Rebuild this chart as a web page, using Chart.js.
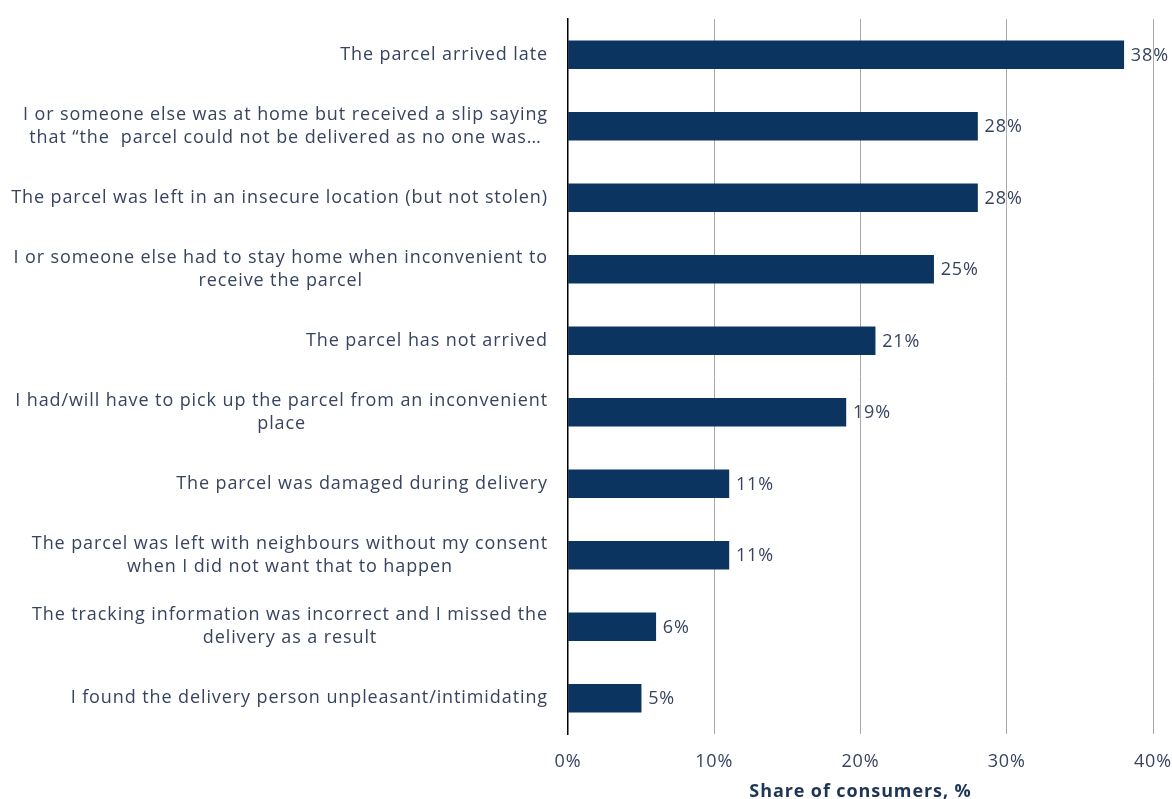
<!DOCTYPE html>
<html><head><meta charset="utf-8">
<script src="https://cdn.jsdelivr.net/npm/chart.js@4/dist/chart.umd.min.js"></script>
<style>html,body{margin:0;padding:0;background:#fff}#wrap{width:1172px;height:799px}</style>
</head><body><div id="wrap"><canvas id="c" width="1172" height="799"></canvas></div>
<script>
const categories = [
  ["The parcel arrived late"],
  ["I or someone else was at home but received a slip saying", "that \u201cthe  parcel could not be delivered as no one was\u2026"],
  ["The parcel was left in an insecure location (but not stolen)"],
  ["I or someone else had to stay home when inconvenient to", "receive the parcel"],
  ["The parcel has not arrived"],
  ["I had/will have to pick up the parcel from an inconvenient", "place"],
  ["The parcel was damaged during delivery"],
  ["The parcel was left with neighbours without my consent", "when I did not want that to happen"],
  ["The tracking information was incorrect and I missed the", "delivery as a result"],
  ["I found the delivery person unpleasant/intimidating"]
];
const shares = [38, 28, 28, 25, 21, 19, 11, 11, 6, 5];
const xTicks = [0, 10, 20, 30, 40];
const axisTitle = "Share of consumers, %";

const TEXT = '#374460';
const FONT = '"Open Sans", sans-serif';
const FSIZE = 18;
const LSP = '0.9px';

const spacingPlugin = {
  id: 'spacing',
  beforeDraw(chart) { chart.ctx.letterSpacing = LSP; }
};
const yLabelPlugin = {
  id: 'yLabels',
  afterDraw(chart) {
    const ctx = chart.ctx, y = chart.scales.y;
    ctx.save();
    ctx.font = FSIZE + 'px ' + FONT;
    ctx.letterSpacing = LSP;
    ctx.fillStyle = TEXT;
    ctx.textAlign = 'center';
    ctx.textBaseline = 'middle';
    const right = chart.chartArea.left - 20;
    const lh = 23;
    categories.forEach((lines, i) => {
      const cy = y.getPixelForTick(i);
      let w = 0;
      lines.forEach(l => { w = Math.max(w, ctx.measureText(l).width); });
      const cx = right - w / 2;
      const y0 = cy - (lines.length - 1) * lh / 2;
      lines.forEach((l, k) => ctx.fillText(l, cx, y0 + k * lh));
    });
    ctx.restore();
  }
};
const valuePlugin = {
  id: 'values',
  afterDatasetsDraw(chart) {
    const ctx = chart.ctx;
    const meta = chart.getDatasetMeta(0);
    ctx.save();
    ctx.font = FSIZE + 'px ' + FONT;
    ctx.letterSpacing = LSP;
    ctx.fillStyle = TEXT;
    ctx.textAlign = 'left';
    ctx.textBaseline = 'middle';
    meta.data.forEach((bar, i) => {
      ctx.fillText(shares[i] + '%', bar.x + 7, bar.y + 1);
    });
    ctx.restore();
  }
};

new Chart(document.getElementById('c'), {
  type: 'bar',
  data: {
    labels: categories,
    datasets: [{
      data: shares,
      backgroundColor: '#0c3460',
      barThickness: 28
    }]
  },
  options: {
    indexAxis: 'y',
    responsive: false,
    animation: false,
    layout: { padding: { top: 19, right: 19, left: 0, bottom: 0 } },
    plugins: { legend: { display: false }, tooltip: { enabled: false } },
    scales: {
      x: {
        min: 0, max: 40,
        afterBuildTicks(s) { s.ticks = xTicks.map(v => ({ value: v })); },
        afterFit(s) { s.height = 65; s.paddingLeft = 0; s.paddingRight = 0; },
        grid: {
          drawTicks: false,
          color: (c) => c.tick && c.tick.value === 0 ? 'rgba(0,0,0,0)' : '#a8a8a8',
          lineWidth: 1
        },
        border: { display: false },
        ticks: {
          padding: 17,
          color: TEXT,
          font: { family: FONT, size: FSIZE },
          callback: (v) => v + '%'
        },
        title: {
          display: true,
          text: axisTitle,
          color: '#1e3556',
          font: { family: FONT, size: 18, weight: 'bold' },
          padding: { top: 0, bottom: -4 }
        }
      },
      y: {
        afterFit(s) { s.width = 568; s.paddingTop = 0; s.paddingBottom = 0; },
        grid: { display: false, drawTicks: false },
        border: { display: true, color: '#000', width: 1.5 },
        ticks: { display: false }
      }
    }
  },
  plugins: [spacingPlugin, yLabelPlugin, valuePlugin]
});
</script></body></html>
